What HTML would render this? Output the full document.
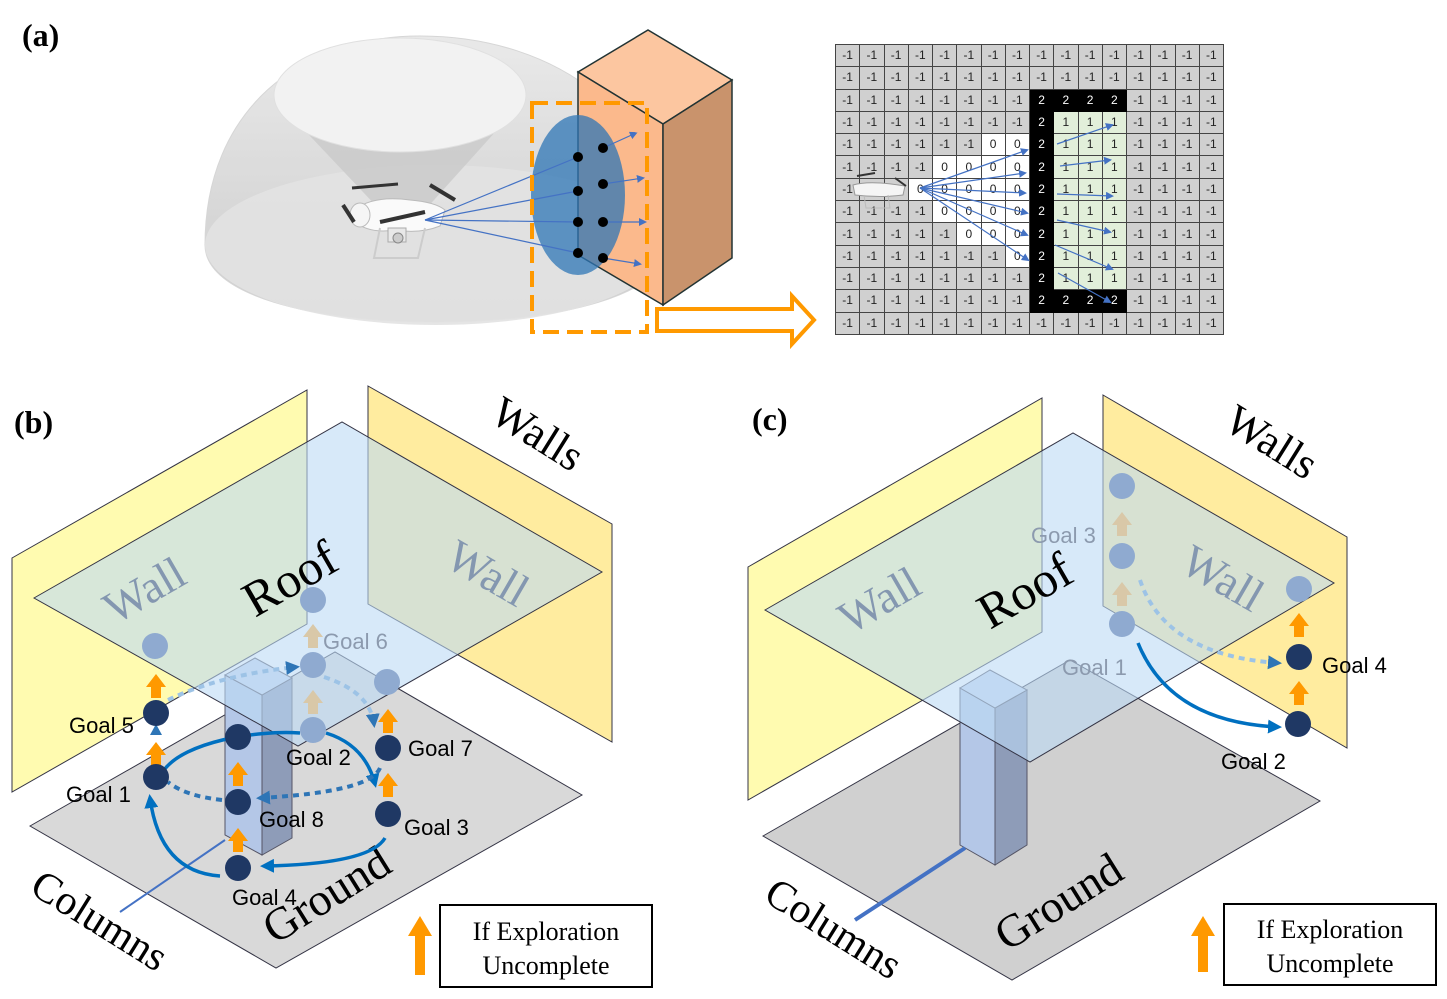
<!DOCTYPE html>
<html><head><meta charset="utf-8"><style>
html,body{margin:0;padding:0;background:#fff;}
#w{position:relative;width:1447px;height:999px;overflow:hidden;}
svg{position:absolute;left:0;top:0;}
table{position:absolute;left:835px;top:44px;width:389px;height:291px;border-collapse:collapse;font-family:"Liberation Sans",sans-serif;font-size:12px;}
td{border:1px solid #444;background:#d0d0d0;text-align:center;padding:0;color:#222;width:24px;height:21px;line-height:11px;}
td.b{background:#000;color:#fff;border-color:#000;}
td.g{background:#e2efda;}
td.w{background:#fff;}
.s{font-family:"Liberation Sans",sans-serif;font-size:22px;}
.r{font-family:"Liberation Serif",serif;}
</style></head><body><div id="w">
<table>
<tr><td>-1</td><td>-1</td><td>-1</td><td>-1</td><td>-1</td><td>-1</td><td>-1</td><td>-1</td><td>-1</td><td>-1</td><td>-1</td><td>-1</td><td>-1</td><td>-1</td><td>-1</td><td>-1</td></tr>
<tr><td>-1</td><td>-1</td><td>-1</td><td>-1</td><td>-1</td><td>-1</td><td>-1</td><td>-1</td><td>-1</td><td>-1</td><td>-1</td><td>-1</td><td>-1</td><td>-1</td><td>-1</td><td>-1</td></tr>
<tr><td>-1</td><td>-1</td><td>-1</td><td>-1</td><td>-1</td><td>-1</td><td>-1</td><td>-1</td><td class=b>2</td><td class=b>2</td><td class=b>2</td><td class=b>2</td><td>-1</td><td>-1</td><td>-1</td><td>-1</td></tr>
<tr><td>-1</td><td>-1</td><td>-1</td><td>-1</td><td>-1</td><td>-1</td><td>-1</td><td>-1</td><td class=b>2</td><td class=g>1</td><td class=g>1</td><td class=g>1</td><td>-1</td><td>-1</td><td>-1</td><td>-1</td></tr>
<tr><td>-1</td><td>-1</td><td>-1</td><td>-1</td><td>-1</td><td>-1</td><td class=w>0</td><td class=w>0</td><td class=b>2</td><td class=g>1</td><td class=g>1</td><td class=g>1</td><td>-1</td><td>-1</td><td>-1</td><td>-1</td></tr>
<tr><td>-1</td><td>-1</td><td>-1</td><td>-1</td><td class=w>0</td><td class=w>0</td><td class=w>0</td><td class=w>0</td><td class=b>2</td><td class=g>1</td><td class=g>1</td><td class=g>1</td><td>-1</td><td>-1</td><td>-1</td><td>-1</td></tr>
<tr><td>-1</td><td>-1</td><td>-1</td><td class=w>0</td><td class=w>0</td><td class=w>0</td><td class=w>0</td><td class=w>0</td><td class=b>2</td><td class=g>1</td><td class=g>1</td><td class=g>1</td><td>-1</td><td>-1</td><td>-1</td><td>-1</td></tr>
<tr><td>-1</td><td>-1</td><td>-1</td><td>-1</td><td class=w>0</td><td class=w>0</td><td class=w>0</td><td class=w>0</td><td class=b>2</td><td class=g>1</td><td class=g>1</td><td class=g>1</td><td>-1</td><td>-1</td><td>-1</td><td>-1</td></tr>
<tr><td>-1</td><td>-1</td><td>-1</td><td>-1</td><td>-1</td><td class=w>0</td><td class=w>0</td><td class=w>0</td><td class=b>2</td><td class=g>1</td><td class=g>1</td><td class=g>1</td><td>-1</td><td>-1</td><td>-1</td><td>-1</td></tr>
<tr><td>-1</td><td>-1</td><td>-1</td><td>-1</td><td>-1</td><td>-1</td><td>-1</td><td class=w>0</td><td class=b>2</td><td class=g>1</td><td class=g>1</td><td class=g>1</td><td>-1</td><td>-1</td><td>-1</td><td>-1</td></tr>
<tr><td>-1</td><td>-1</td><td>-1</td><td>-1</td><td>-1</td><td>-1</td><td>-1</td><td>-1</td><td class=b>2</td><td class=g>1</td><td class=g>1</td><td class=g>1</td><td>-1</td><td>-1</td><td>-1</td><td>-1</td></tr>
<tr><td>-1</td><td>-1</td><td>-1</td><td>-1</td><td>-1</td><td>-1</td><td>-1</td><td>-1</td><td class=b>2</td><td class=b>2</td><td class=b>2</td><td class=b>2</td><td>-1</td><td>-1</td><td>-1</td><td>-1</td></tr>
<tr><td>-1</td><td>-1</td><td>-1</td><td>-1</td><td>-1</td><td>-1</td><td>-1</td><td>-1</td><td>-1</td><td>-1</td><td>-1</td><td>-1</td><td>-1</td><td>-1</td><td>-1</td><td>-1</td></tr>
</table>
<svg width="1447" height="999" viewBox="0 0 1447 999">
<defs>
<marker id="ab" markerWidth="8" markerHeight="8" refX="6" refY="4" orient="auto" markerUnits="userSpaceOnUse"><path d="M0,0 L8,4 L0,8z" fill="#4472c4"/></marker>
<marker id="mb" markerWidth="14" markerHeight="14" refX="10" refY="7" orient="auto" markerUnits="userSpaceOnUse"><path d="M0,0 L14,7 L0,14z" fill="#0070c0"/></marker>
<marker id="ml" markerWidth="14" markerHeight="14" refX="10" refY="7" orient="auto" markerUnits="userSpaceOnUse"><path d="M0,0 L14,7 L0,14z" fill="#2e75b6"/></marker>
<linearGradient id="dome" x1="0" y1="0" x2="0" y2="1"><stop offset="0" stop-color="#e6e6e6"/><stop offset="1" stop-color="#c4c4c4"/></linearGradient>
<g id="uparr"><path d="M-5,0 L-5,-11 L-10,-11 L0,-24 L10,-11 L5,-11 L5,0z"/></g>
</defs>

<!-- (a) -->
<text x="22" y="46" class="r" font-size="32" font-weight="bold">(a)</text>
<path d="M205,245 C205,110 300,36 420,36 C560,36 668,120 668,245 C668,295 560,322 436,322 C312,322 205,295 205,245z" fill="url(#dome)" stroke="#cfcfcf" opacity="0.85"/>
<ellipse cx="436" cy="245" rx="231" ry="80" fill="#e2e2e2" opacity="0.9"/>
<path d="M276,100 L380,210 L425,210 L524,100z" fill="#c9c9c9" opacity="0.8"/>
<ellipse cx="400" cy="95" rx="126" ry="57" fill="#f2f2f2" stroke="#e0e0e0"/>
<!-- drone -->
<g>
<path d="M362,205 Q380,196 410,200 Q435,202 445,210 L440,226 Q420,234 395,230 Q370,234 355,222z" fill="#fafafa" stroke="#bbb"/>
<ellipse cx="360" cy="215" rx="10" ry="12" fill="#f5f5f5" stroke="#bbb"/>
<path d="M380,228 L374,258 L418,258 L425,228" fill="none" stroke="#ccc" stroke-width="2"/>
<rect x="388" y="228" width="18" height="14" fill="#e8e8e8" stroke="#aaa"/>
<circle cx="398" cy="238" r="5" fill="#ccc" stroke="#888"/>
<path d="M352,188 L398,184" stroke="#333" stroke-width="3"/>
<path d="M430,185 L455,200" stroke="#333" stroke-width="4"/>
<path d="M343,205 L354,222" stroke="#333" stroke-width="4"/>
<path d="M380,222 L425,212" stroke="#333" stroke-width="4"/>
</g>
<!-- box -->
<path d="M578,72 L648,30 L732,80 L663,124z" fill="#fcc6a0" stroke="#233" stroke-width="1.5"/>
<path d="M578,72 L663,124 L663,305 L578,255z" fill="#fbb98c" stroke="#233" stroke-width="1.5"/>
<path d="M663,124 L732,80 L732,258 L663,305z" fill="#c9936c" stroke="#233" stroke-width="1.5"/>
<ellipse cx="578" cy="195" rx="47" ry="80" fill="#2e75b6" opacity="0.75"/>
<g stroke="#4472c4" stroke-width="1.2" fill="none">
<path d="M425,220 L578,157"/><path d="M425,220 L578,191"/><path d="M425,220 L578,222"/><path d="M425,220 L578,253"/>
<path d="M603,148 L636,133" marker-end="url(#ab)"/><path d="M603,184 L643,178" marker-end="url(#ab)"/><path d="M603,222 L645,222" marker-end="url(#ab)"/><path d="M603,258 L640,264" marker-end="url(#ab)"/>
</g>
<g fill="#000"><circle cx="578" cy="157" r="5"/><circle cx="603" cy="148" r="5"/><circle cx="578" cy="191" r="5"/><circle cx="603" cy="184" r="5"/><circle cx="578" cy="222" r="5"/><circle cx="603" cy="222" r="5"/><circle cx="578" cy="253" r="5"/><circle cx="603" cy="258" r="5"/></g>
<rect x="532" y="103" width="115" height="229" fill="none" stroke="#ff9900" stroke-width="4" stroke-dasharray="16,8"/>
<path d="M657,309 L792,309 L792,296 L814,320 L792,344 L792,331 L657,331z" fill="#fff" stroke="#ff9900" stroke-width="4"/>
<!-- grid rays -->
<g stroke="#4472c4" stroke-width="1.2" fill="none">
<path d="M920,188 L1027,150" marker-end="url(#ab)"/><path d="M920,188 L1025,173" marker-end="url(#ab)"/><path d="M920,188 L1025,193" marker-end="url(#ab)"/><path d="M920,188 L1027,213" marker-end="url(#ab)"/><path d="M920,188 L1027,235" marker-end="url(#ab)"/><path d="M920,188 L1028,260" marker-end="url(#ab)"/>
<path d="M1057,144 L1112,125" marker-end="url(#ab)"/><path d="M1060,166 L1110,160" marker-end="url(#ab)"/><path d="M1057,194 L1112,196" marker-end="url(#ab)"/><path d="M1057,220 L1110,232" marker-end="url(#ab)"/><path d="M1055,245 L1112,269" marker-end="url(#ab)"/><path d="M1058,273 L1110,302" marker-end="url(#ab)"/>
</g>
<g><path d="M853,185 Q870,180 905,186 L903,195 Q880,198 855,195z" fill="#f5f5f5" stroke="#999"/><path d="M864,195 L866,208 L890,208 L888,195" fill="none" stroke="#bbb"/><path d="M857,176 L875,173 M895,178 L906,186" stroke="#333" stroke-width="2"/></g>

<!-- (b) -->
<polygon points="12,558 307,390 307,624 12,792" fill="#fffbb0" stroke="#334" stroke-width="1"/>
<polygon points="368,386 612,524 612,742 368,604" fill="#ffec9f" stroke="#334" stroke-width="1"/>
<polygon points="30,826 335,652 582,795 276,968" fill="#d9d9d9" stroke="#334" stroke-width="1"/>
<polygon points="225,675 262,695 262,855 225,835" fill="#b4c7e7" stroke="#556" stroke-width="1"/>
<polygon points="262,695 292,678 292,838 262,855" fill="#8e9cb8" stroke="#556" stroke-width="1"/>
<polygon points="225,675 255,658 292,678 262,695" fill="#c9d8ef" stroke="#556" stroke-width="1"/>
<polygon points="34,598 342,422 602,572 298,746" fill="#bcdaf5" fill-opacity="0.6" stroke="#334" stroke-width="1"/>
<text class="r" font-size="46" fill="#8497b0" transform="translate(115,625) rotate(-30)">Wall</text>
<text class="r" font-size="50" fill="#000" transform="translate(255,618) rotate(-30)">Roof</text>
<text class="r" font-size="46" fill="#8497b0" transform="translate(443,565) rotate(30)">Wall</text>
<text class="r" font-size="44" fill="#000" transform="translate(488,420) rotate(32)">Walls</text>
<text class="r" font-size="46" fill="#000" transform="translate(275,945) rotate(-32)">Ground</text>
<text class="r" font-size="42" fill="#000" transform="translate(28,892) rotate(32)">Columns</text>
<path d="M120,912 L225,840" stroke="#4472c4" stroke-width="2"/>
<!-- b arrows -->
<g fill="none" stroke="#0070c0" stroke-width="3.5">
<path d="M164,770 C185,742 255,730 300,733"/>
<path d="M326,733 Q365,745 375,784" marker-end="url(#mb)"/>
<path d="M385,838 Q370,864 264,866" marker-end="url(#mb)"/>
<path d="M220,876 Q160,872 150,798" marker-end="url(#mb)"/>
</g>
<g fill="none" stroke="#2e75b6" stroke-width="4" stroke-dasharray="6,5">
<path d="M380,768 Q370,792 260,798" marker-end="url(#ml)"/>
<path d="M222,800 Q185,796 168,782"/>
</g>
<g fill="none" stroke="#9dc3e6" stroke-width="4" stroke-dasharray="6,5">
<path d="M168,700 Q220,675 296,667" marker-end="url(#ml)"/>
<path d="M324,677 Q370,692 374,724" marker-end="url(#ml)"/>
</g>
<g fill="#ff9900">
<use href="#uparr" x="156" y="698"/><use href="#uparr" x="156" y="766"/><use href="#uparr" x="238" y="786"/><use href="#uparr" x="238" y="852"/><use href="#uparr" x="388" y="733"/><use href="#uparr" x="388" y="797"/>
</g>
<g fill="#d9c8a8"><use href="#uparr" x="313" y="648"/><use href="#uparr" x="313" y="714"/></g>
<path d="M150,735 L156,724 L162,735z" fill="#2e75b6"/>
<g fill="#8faad0"><circle cx="155" cy="646" r="13"/><circle cx="313" cy="600" r="13"/><circle cx="313" cy="665" r="13"/><circle cx="313" cy="730" r="13"/><circle cx="387" cy="682" r="13"/></g>
<g fill="#1f3864"><circle cx="156" cy="713" r="13"/><circle cx="156" cy="777" r="13"/><circle cx="238" cy="737" r="13"/><circle cx="238" cy="802" r="13"/><circle cx="238" cy="868" r="13"/><circle cx="388" cy="748" r="13"/><circle cx="388" cy="814" r="13"/></g>
<g class="s" fill="#000">
<text x="69" y="733">Goal 5</text><text x="66" y="802">Goal 1</text><text x="286" y="765">Goal 2</text><text x="408" y="756">Goal 7</text><text x="259" y="827">Goal 8</text><text x="404" y="835">Goal 3</text><text x="232" y="905">Goal 4</text>
</g>
<text class="s" x="323" y="649" fill="#8c9aae">Goal 6</text>
<text x="14" y="433" class="r" font-size="32" font-weight="bold">(b)</text>
<g fill="#ff9900"><path d="M415,975 L415,936 L408,936 L420,916 L432,936 L425,936 L425,975z"/></g>
<rect x="440" y="905" width="212" height="82" fill="#fff" stroke="#000" stroke-width="2"/>
<text class="r" font-size="26" x="546" y="940" text-anchor="middle">If Exploration</text>
<text class="r" font-size="26" x="546" y="974" text-anchor="middle">Uncomplete</text>

<!-- (c) -->
<polygon points="748,567 1042,398 1042,632 748,800" fill="#fffbb0" stroke="#334" stroke-width="1"/>
<polygon points="1103,395 1347,537 1347,748 1103,606" fill="#ffec9f" stroke="#334" stroke-width="1"/>
<polygon points="763,836 1070,660 1320,801 1012,980" fill="#d0d0d0" stroke="#334" stroke-width="1"/>
<polygon points="960,688 995,708 995,865 960,845" fill="#b4c7e7" stroke="#556" stroke-width="1"/>
<polygon points="995,708 1027,690 1027,845 995,865" fill="#8e9cb8" stroke="#556" stroke-width="1"/>
<polygon points="960,688 990,670 1027,690 995,708" fill="#c9d8ef" stroke="#556" stroke-width="1"/>
<polygon points="765,610 1073,433 1334,583 1030,762" fill="#bcdaf5" fill-opacity="0.6" stroke="#334" stroke-width="1"/>
<text class="r" font-size="46" fill="#8497b0" transform="translate(850,635) rotate(-30)">Wall</text>
<text class="r" font-size="50" fill="#000" transform="translate(990,630) rotate(-30)">Roof</text>
<text class="r" font-size="46" fill="#8497b0" transform="translate(1178,570) rotate(30)">Wall</text>
<text class="r" font-size="44" fill="#000" transform="translate(1222,428) rotate(32)">Walls</text>
<text class="r" font-size="46" fill="#000" transform="translate(1007,952) rotate(-32)">Ground</text>
<text class="r" font-size="42" fill="#000" transform="translate(762,900) rotate(32)">Columns</text>
<path d="M855,920 L965,848" stroke="#4472c4" stroke-width="4"/>
<path d="M1140,580 Q1165,655 1278,663" fill="none" stroke="#9dc3e6" stroke-width="4" stroke-dasharray="6,5" marker-end="url(#ml)"/>
<path d="M1138,643 Q1170,722 1278,727" fill="none" stroke="#0070c0" stroke-width="3.5" marker-end="url(#mb)"/>
<g fill="#ff9900"><use href="#uparr" x="1299" y="637"/><use href="#uparr" x="1299" y="705"/></g>
<g fill="#d9c8a8"><use href="#uparr" x="1122" y="536"/><use href="#uparr" x="1122" y="606"/></g>
<g fill="#8faad0"><circle cx="1122" cy="486" r="13"/><circle cx="1122" cy="556" r="13"/><circle cx="1122" cy="624" r="13"/><circle cx="1299" cy="589" r="13"/></g>
<g fill="#1f3864"><circle cx="1299" cy="657" r="13"/><circle cx="1298" cy="724" r="13"/></g>
<text class="s" x="1031" y="543" fill="#8c9aae">Goal 3</text>
<text class="s" x="1062" y="675" fill="#8c9aae">Goal 1</text>
<text class="s" x="1322" y="673">Goal 4</text>
<text class="s" x="1221" y="769">Goal 2</text>
<text x="752" y="430" class="r" font-size="32" font-weight="bold">(c)</text>
<path d="M1198,972 L1198,936 L1191,936 L1203,916 L1215,936 L1208,936 L1208,972z" fill="#ff9900"/>
<rect x="1224" y="904" width="212" height="81" fill="#fff" stroke="#000" stroke-width="2"/>
<text class="r" font-size="26" x="1330" y="938" text-anchor="middle">If Exploration</text>
<text class="r" font-size="26" x="1330" y="972" text-anchor="middle">Uncomplete</text>
</svg>
</div></body></html>
